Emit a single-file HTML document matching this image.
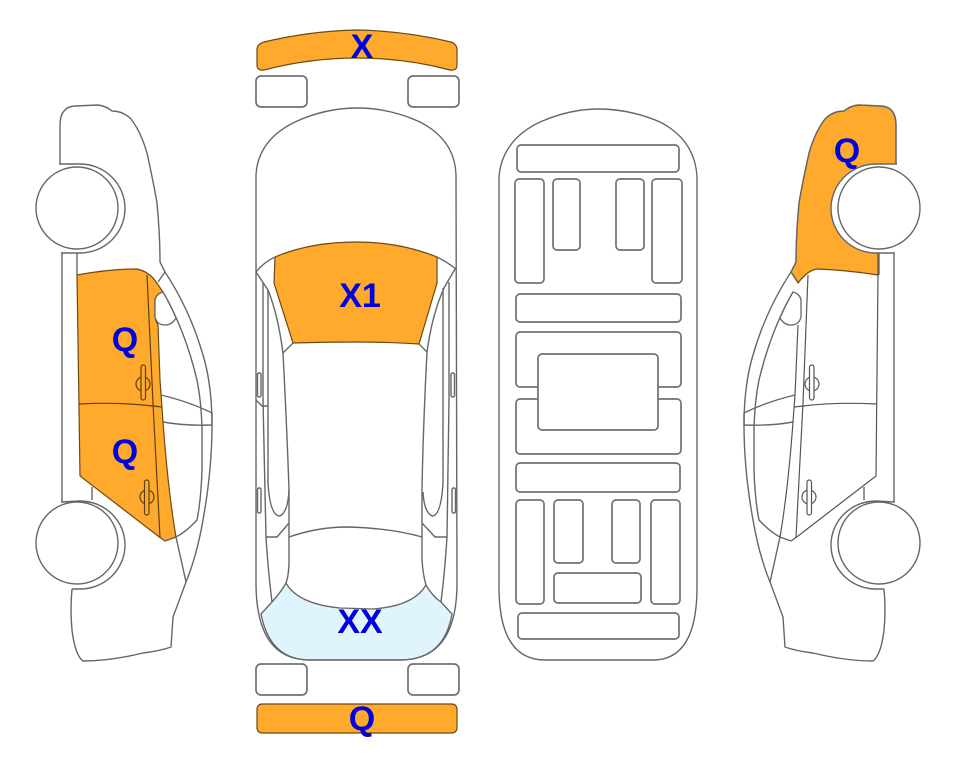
<!DOCTYPE html>
<html><head><meta charset="utf-8"><style>
html,body{margin:0;padding:0;background:#fff}
svg{display:block}
text{font-family:"Liberation Sans",sans-serif;font-weight:bold;font-size:34px;fill:#0000e0;text-anchor:middle}
.l path,.l rect,.l circle{fill:none;stroke:#666;stroke-width:1.4}
.r rect{stroke-width:1.7!important;stroke:#707070!important}
.w{fill:#fff!important}
.o{fill:#ffaa2c;stroke:#6b4a14;stroke-width:1.2}
</style></head><body>
<svg width="963" height="768" viewBox="0 0 963 768" xmlns="http://www.w3.org/2000/svg">
<defs>
<g id="car" class="l">
<path d="M60,164 L60,125 Q60,107 75,106 L98,105 Q106,106 112,111 Q123,111 131,119 Q141,132 147,153 Q154,185 157,203 Q160,235 160,262 L165,272 Q190,310 203,355 Q212,385 212,425 Q212,470 203,520 Q197,555 186,582 L173,617 L171,647 Q160,651 143,653 Q110,661 83,661 Q75,655 72,630 Q70,610 72,589"/>
<path d="M59,164 L80,164 A45,44.500 0 0 1 125,208.500 A45,44.500 0 0 1 80,253 L61,253"/>
<path d="M61,502 L80,501 A45,44 0 0 1 125,545 A45,44 0 0 1 80,589 L72,589"/>
<path d="M62,253 L62,502 M77,253 L77,275"/>
<path d="M158,282 L165,272"/>
<path d="M163,292 Q185,330 197,380 Q201,400 202,427 L202,470 Q201,500 197,520 Q186,532 176,537 L165,541"/>
<path d="M161,395 Q190,402 212,413 L212,425 Q185,426 163,422"/>
<path d="M176,537 L186,582"/>
<path d="M92,487 L92,500"/>
</g>
<g id="hood" class="l">
<circle class="w" cx="77" cy="208" r="41"/>
<circle class="w" cx="77" cy="543" r="41"/>
</g>
</defs>

<!-- left car -->
<path class="o" d="M77,275 Q110,269 137,269 Q147,271 154,279 L163,292 Q156,294 155,300 L155,317 Q156,322 158,325 L160,380 L163,422 Q168,490 176,537 L165,541 L158,536 L80,476 Z"/>
<use href="#car"/>
<path d="M163,292 Q156,294 155,300 L155,317 Q157,325 165,325 Q172,325 176,318 Q170,304 163,292 Z" fill="#fff" stroke="#666" stroke-width="1.300"/>
<use href="#hood"/>
<path d="M147,275 L153,403 L160,537 M79,404 Q120,402 153,406 L162,407" fill="none" stroke="#5e4115" stroke-width="1.200"/>
<g fill="none" stroke="#5e4115" stroke-width="1.200">
<circle cx="143" cy="384" r="7"/><rect x="141" y="365" width="4.500" height="35" rx="2.200" fill="#ffaa2c"/>
<circle cx="147" cy="497" r="7"/><rect x="144.500" y="480" width="4.500" height="35" rx="2.200" fill="#ffaa2c"/>
</g>

<!-- right car -->
<g transform="translate(956,0) scale(-1,1)">
<path class="o" d="M60,164 L60,125 Q60,107 75,106 L98,105 Q106,106 112,111 Q123,111 131,119 Q141,132 147,153 Q154,185 157,203 Q160,235 160,262 L165,272 L158,283 Q148,270 139,269 Q110,270 78,275 L78,240 L60,240 Z"/>
<path d="M55,164 L80,164 A45,44.500 0 0 1 125,208.500 A45,44.500 0 0 1 80,253 L55,253 Z" fill="#fff"/>
<use href="#car"/>
<path d="M163,292 Q156,294 155,300 L155,317 Q157,325 165,325 Q172,325 176,318 Q170,304 163,292 Z" fill="#fff" stroke="#666" stroke-width="1.300"/>
<use href="#hood"/>
<g fill="none" stroke="#555" stroke-width="1.200">
<path d="M148,275 L153,403 L160,537 M79,404 Q120,402 153,406 L162,407 M80,476 L158,536 L165,541 M80,476 L78,275"/>
<path d="M158,325 L161,395 L163,422 Q168,490 176,537"/>
<circle cx="144" cy="384" r="7"/><rect x="142" y="365" width="4.500" height="35" rx="2.200" fill="#fff"/>
<circle cx="147" cy="497" r="7"/><rect x="144.500" y="480" width="4.500" height="35" rx="2.200" fill="#fff"/>
</g>
</g>

<!-- top view -->
<path class="o" d="M257,50 Q257,44 264,42 Q310,31 357,30 Q405,31 451,42 Q457,44 457,50 L457,65 Q457,71 450,70 Q405,58 357,58 Q310,58 264,70 Q257,71 257,65 Z"/>
<g class="l r">
<rect x="256" y="76" width="51" height="31" rx="5"/>
<rect x="408" y="76" width="51" height="31" rx="5"/>
<rect x="256" y="664" width="51" height="31" rx="5"/>
<rect x="408" y="664" width="51" height="31" rx="5"/>
</g>
<path d="M261,614 L272,602 Q281,592 286,583 Q298,604 340,608 L373,609 Q414,606 426,585 Q433,597 441,602 L452,614 Q444,660 400,660 L310,660 Q270,660 261,614 Z" fill="#dff4fd" stroke="#666" stroke-width="1.300"/>
<path class="o" d="M275,257 Q310,242 357,242 Q400,242 437,257 L437,283 L419,344 Q385,342 357,342 Q325,342 293,343 L274,283 Z"/>
<g class="l">
<path d="M256,583 L256,175 Q258,140 295,122 Q325,108 357,108 Q390,108 420,122 Q455,140 456,175 L457,583 Q457,660 400,660 L310,660 Q256,660 256,583 Z"/>
<path d="M256,272 Q264,262 275,257 M437,257 Q447,262 456,269"/>
<path d="M256,272 L268,290 Q278,315 283,353 L293,343 M455,269 L444,288 Q432,315 427,352 L419,344"/>
<path d="M283,353 Q287,430 289,490 L289,560 Q289,575 286,583"/>
<path d="M427,352 Q423,430 422,490 L422,560 Q423,575 426,585"/>
<path d="M289,537 Q318,527 347,527 Q390,528 422,537"/>
<path d="M263,283 L263,400 L266,537 Q268,570 272,602"/>
<path d="M268,290 L268,483 Q270,516 280,516 Q288,512 289,490"/>
<path d="M443,288 L443,483 Q441,516 432,516 Q424,512 423,492"/>
<path d="M449,282 L449,400 L447,537 Q445,570 441,602"/>
<path d="M266,537 L277,537 L289,523 M422,523 L435,537 L447,537"/>
<path d="M256,400 L262,406 L268,406"/>
<rect x="257.500" y="373" width="3.500" height="24" rx="1.500"/>
<rect x="257.500" y="488" width="3.500" height="25" rx="1.500"/>
<rect x="451" y="373" width="3.500" height="24" rx="1.500"/>
<rect x="452" y="488" width="3.500" height="25" rx="1.500"/>
</g>
<rect class="o" x="257" y="704" width="200" height="29" rx="5"/>

<!-- underside view -->
<g class="l r">
<path d="M499,177 Q502,140 540,122 Q570,109 598,109 Q630,109 660,122 Q695,140 697,177 L697,587 Q697,660 653,660 L545,660 Q499,660 499,587 Z"/>
<rect x="517" y="145" width="162" height="27" rx="4"/>
<rect x="515" y="179" width="29" height="104" rx="4"/>
<rect x="553" y="179" width="27" height="71" rx="4"/>
<rect x="616" y="179" width="28" height="71" rx="4"/>
<rect x="652" y="179" width="30" height="104" rx="4"/>
<rect x="516" y="294" width="165" height="28" rx="4"/>
<rect x="516" y="332" width="165" height="55" rx="4"/>
<rect x="516" y="399" width="165" height="55" rx="4"/>
<rect class="w" x="538" y="354" width="120" height="76" rx="4"/>
<rect x="516" y="463" width="164" height="29" rx="4"/>
<rect x="516" y="500" width="28" height="104" rx="4"/>
<rect x="554" y="500" width="29" height="63" rx="4"/>
<rect x="612" y="500" width="28" height="63" rx="4"/>
<rect x="651" y="500" width="29" height="104" rx="4"/>
<rect x="554" y="573" width="87" height="30" rx="4"/>
<rect x="518" y="613" width="161" height="26" rx="4"/>
</g>

<text x="362" y="58">X</text>
<text x="360" y="307">X1</text>
<text x="360" y="633">XX</text>
<text x="362" y="730">Q</text>
<text x="125" y="351">Q</text>
<text x="125" y="463">Q</text>
<text x="847" y="162">Q</text>
</svg>
</body></html>
